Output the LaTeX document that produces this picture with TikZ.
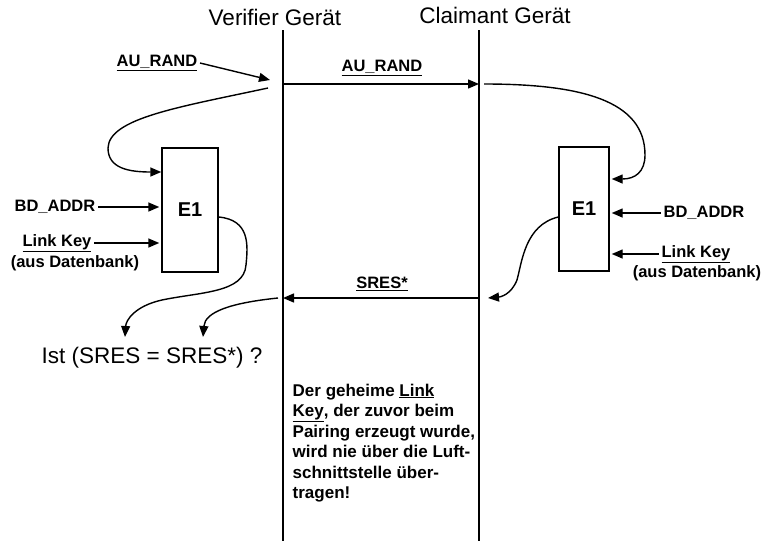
\documentclass[tikz,border=0pt]{standalone}
\usepackage{fontspec}
\setmainfont{Liberation Sans}
\usetikzlibrary{arrows.meta,positioning,calc}

\begin{document}
\begin{tikzpicture}[x=1pt, y=-1pt, line width=1.4pt,
  lbl/.style={font=\fontsize{16.5}{19}\selectfont\bfseries, inner sep=2pt},
  head/.style={font=\fontsize{22.5}{26}\selectfont, inner sep=2pt},
  e1box/.style={draw, minimum height=124pt, inner sep=0pt, font=\fontsize{20}{22}\selectfont\bfseries},
  pfeil/.style={-{Triangle[length=11pt,width=9pt]}}]
\useasboundingbox (0,0) rectangle (769,541);
\node[head] (verifier) at (275,17) {Verifier Gerät};
\node[head] (claimant) at (495,15) {Claimant Gerät};
\coordinate (vtop) at (283,30);
\coordinate (vbot) at (283,541);
\coordinate (ctop) at (479,30);
\coordinate (cbot) at (479,541);
\draw (vtop) -- (vbot);
\draw (ctop) -- (cbot);
\node[e1box, minimum width=56pt] (boxV) at (190,210) {E1};
\node[e1box, minimum width=50pt] (boxC) at (584,209) {E1};
\node[lbl] (randin) at (157,63) {\underline{AU\_RAND}};
\coordinate (randtip) at (270,80);
\draw[pfeil] (randin.east) -- (randtip);
\node[lbl] (randair) at (382,68) {\underline{AU\_RAND}};
\coordinate (vrand) at (283,84);
\coordinate (crand) at (479,84);
\draw[pfeil] (vrand) -- (crand);
\coordinate (randout) at (268,88);
\draw[pfeil] (randout) .. controls (180,107) and (109,118) .. (108,148)
  .. controls (108,168) and (128,172) .. (boxV.west |- 0,172);
\coordinate (crandout) at (484,84);
\draw[pfeil, shorten >=2pt] (crandout) .. controls (580,84) and (645,100) .. (645,155)
  .. controls (645,172) and (635,179) .. (boxC.east |- 0,179);
\node[lbl] (addrV) at (55,207) {BD\_ADDR};
\node[lbl] (keyV) at (57,243) {\underline{Link Key}};
\node[lbl] (dbV) at (75,263) {(aus Datenbank)};
\draw[pfeil, shorten >=2pt] (addrV.east) -- (addrV.east -| boxV.west);
\draw[pfeil, shorten >=2pt] (keyV.east) -- (keyV.east -| boxV.west);
\node[lbl] (addrC) at (704,213) {BD\_ADDR};
\node[lbl] (keyC) at (696,254) {\underline{Link Key}};
\node[lbl] (dbC) at (697,273) {(aus Datenbank)};
\draw[pfeil, shorten >=2pt] (addrC.west) -- (addrC.west -| boxC.east);
\draw[pfeil, shorten >=2pt] (keyC.west) -- (keyC.west -| boxC.east);
\node[lbl] (sres) at (382,284) {\underline{SRES*}};
\coordinate (csres) at (479,298);
\coordinate (vsres) at (283,298);
\draw[pfeil] (csres) -- (vsres);
\coordinate (boxCout) at (boxC.west |- 0,217);
\coordinate (sresback) at (488,298);
\draw[pfeil] (boxCout) .. controls (525,225) and (522,262) .. (517,280)
  .. controls (511,295) and (500,297) .. (sresback);
\node[head] (check) at (152,358) {Ist (SRES = SRES*) ?};
\coordinate (checkL) at (125,337);
\coordinate (checkR) at (203,337);
\coordinate (boxVout) at (boxV.east |- 0,217);
\coordinate (sresin) at (278,298);
\draw[pfeil] (boxVout) .. controls (250,220) and (248,245) .. (246,265)
  .. controls (244,293) and (200,292) .. (162,300) .. controls (135,306) and (126,320) .. (checkL);
\draw[pfeil] (sresin) .. controls (230,303) and (205,312) .. (checkR);
\node[lbl, anchor=north west, align=left, font=\fontsize{17}{20.5}\selectfont\bfseries] (note) at (290,381)
  {Der geheime \underline{Link}\\ \underline{Key}, der zuvor beim\\ Pairing erzeugt wurde,\\
   wird nie über die Luft-\\ schnittstelle über-\\ tragen!};
\end{tikzpicture}
\end{document}
